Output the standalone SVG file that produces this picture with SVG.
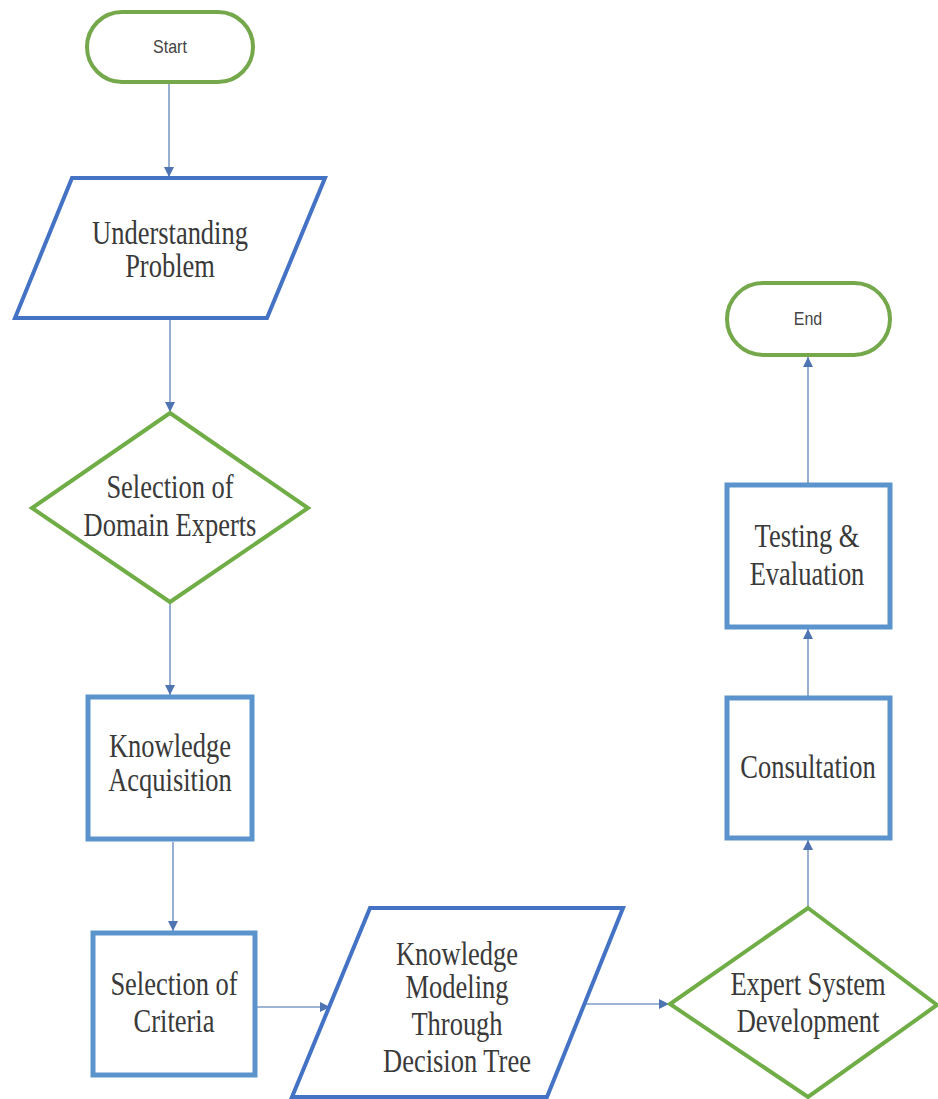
<svg xmlns="http://www.w3.org/2000/svg" width="938" height="1099" viewBox="0 0 938 1099">
  <style>
    .term { fill: #ffffff; stroke: #74A84A; stroke-width: 4; }
    .io { fill: #ffffff; stroke: #4472C4; stroke-width: 4; stroke-linejoin: miter; }
    .dec { fill: #ffffff; stroke: #70AD47; stroke-width: 4; stroke-linejoin: miter; }
    .proc { fill: #ffffff; stroke: #5B93CC; stroke-width: 5; }
    .lbl { font-family: "Liberation Serif", "Times New Roman", serif; font-size: 26.5px; fill: #3a3a3a; text-anchor: middle; }
    .tlbl { font-family: "Liberation Sans", Arial, sans-serif; font-size: 16px; fill: #444444; text-anchor: middle; }
    .edge { fill: none; stroke: #7E9BC6; stroke-width: 1.6; marker-end: url(#arrow); }
  </style>
  <defs>
    <marker id="arrow" viewBox="0 0 10 10" refX="10" refY="5" markerWidth="10" markerHeight="10" markerUnits="userSpaceOnUse" orient="auto">
      <path d="M0,0 L10,5 L0,10 z" fill="#4F74B2"/>
    </marker>
  </defs>
  <rect width="938" height="1099" fill="#ffffff"/>

  <!-- connectors -->
  <g id="connectors">
    <line class="edge" x1="169" y1="82" x2="169" y2="177"/>
    <line class="edge" x1="170" y1="320" x2="170" y2="412"/>
    <line class="edge" x1="170" y1="604" x2="170" y2="695"/>
    <line class="edge" x1="173" y1="842" x2="173" y2="931"/>
    <line class="edge" x1="257" y1="1007" x2="330" y2="1007"/>
    <line class="edge" x1="585" y1="1004" x2="669" y2="1004"/>
    <line class="edge" x1="808" y1="907" x2="808" y2="840"/>
    <line class="edge" x1="808" y1="696" x2="808" y2="629"/>
    <line class="edge" x1="808" y1="483" x2="808" y2="357"/>
  </g>

  <g id="start">
    <rect class="term" x="87" y="12" width="166" height="70" rx="35" ry="35"/>
    <text class="tlbl" transform="translate(170,53) scale(1,1.15)">Start</text>
  </g>

  <g id="understanding-problem">
    <polygon class="io" points="72,178 325,178 267,318 15,318"/>
    <text class="lbl" transform="translate(170,244) scale(1,1.24)">Understanding</text>
    <text class="lbl" transform="translate(170,277) scale(1,1.24)">Problem</text>
  </g>

  <g id="selection-domain-experts">
    <polygon class="dec" points="170,413 308,508 170,602 32,508"/>
    <text class="lbl" transform="translate(170,498) scale(1,1.24)">Selection of</text>
    <text class="lbl" transform="translate(170,536) scale(1,1.24)">Domain Experts</text>
  </g>

  <g id="knowledge-acquisition">
    <rect class="proc" x="88" y="697" width="164" height="142"/>
    <text class="lbl" transform="translate(170,757) scale(1,1.24)">Knowledge</text>
    <text class="lbl" transform="translate(170,791) scale(1,1.24)">Acquisition</text>
  </g>

  <g id="selection-criteria">
    <rect class="proc" x="93" y="933" width="162" height="142"/>
    <text class="lbl" transform="translate(174,995) scale(1,1.24)">Selection of</text>
    <text class="lbl" transform="translate(174,1032) scale(1,1.24)">Criteria</text>
  </g>

  <g id="knowledge-modeling">
    <polygon class="io" points="370,908 623,908 547,1097 292,1097"/>
    <text class="lbl" transform="translate(457,965) scale(1,1.24)">Knowledge</text>
    <text class="lbl" transform="translate(457,998) scale(1,1.24)">Modeling</text>
    <text class="lbl" transform="translate(457,1035) scale(1,1.24)">Through</text>
    <text class="lbl" transform="translate(457,1072) scale(1,1.24)">Decision Tree</text>
  </g>

  <g id="expert-system-development">
    <polygon class="dec" points="808,908 937,1005 808,1097 670,1004"/>
    <text class="lbl" transform="translate(808,995) scale(1,1.24)">Expert System</text>
    <text class="lbl" transform="translate(808,1032) scale(1,1.24)">Development</text>
  </g>

  <g id="consultation">
    <rect class="proc" x="727" y="698" width="163" height="140"/>
    <text class="lbl" transform="translate(808,778) scale(1,1.24)">Consultation</text>
  </g>

  <g id="testing-evaluation">
    <rect class="proc" x="727" y="485" width="163" height="142"/>
    <text class="lbl" transform="translate(807,547) scale(1,1.24)">Testing &amp;</text>
    <text class="lbl" transform="translate(807,585) scale(1,1.24)">Evaluation</text>
  </g>

  <g id="end">
    <rect class="term" x="727" y="283" width="163" height="72" rx="36" ry="36"/>
    <text class="tlbl" transform="translate(808,325) scale(1,1.15)">End</text>
  </g>
</svg>
